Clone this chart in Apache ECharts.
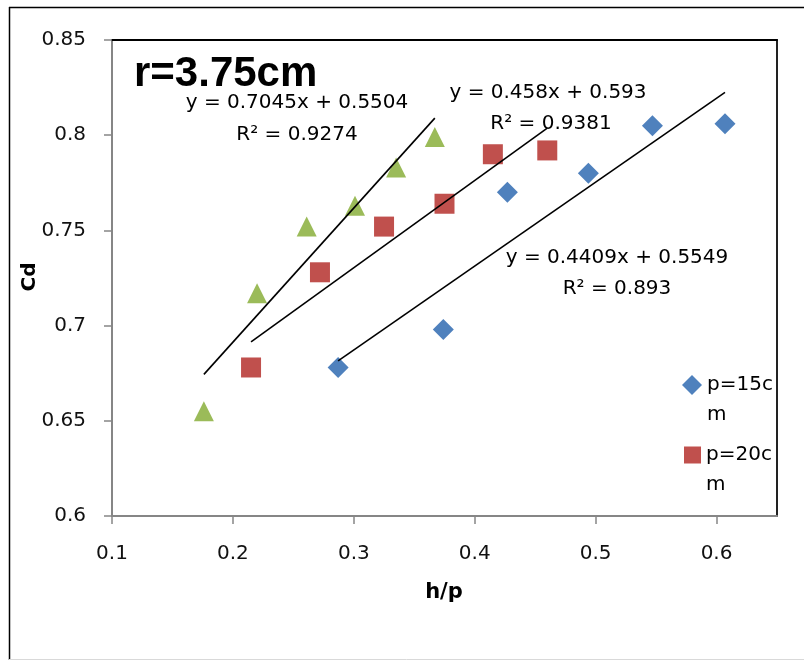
<!DOCTYPE html>
<html>
<head>
<meta charset="utf-8">
<script src="https://cdn.jsdelivr.net/npm/echarts@6/dist/echarts.min.js"></script>
<style>
  html, body { margin: 0; padding: 0; background: #ffffff; }
  #chart { width: 804px; height: 660px; }
</style>
</head>
<body>
<div id="chart"></div>
<script>
// Discharge coefficient Cd against relative head h/p, r = 3.75 cm
const seriesNames = ['p=15cm', 'p=20cm', 'p=10cm'];

const hpP15 = [0.287, 0.374, 0.427, 0.494, 0.547, 0.607];
const cdP15 = [0.678, 0.698, 0.770, 0.780, 0.805, 0.806];

const hpP20 = [0.215, 0.272, 0.325, 0.375, 0.415, 0.460];
const cdP20 = [0.678, 0.728, 0.752, 0.764, 0.790, 0.792];

const hpP10 = [0.176, 0.220, 0.261, 0.301, 0.335, 0.367];
const cdP10 = [0.655, 0.717, 0.752, 0.763, 0.783, 0.799];

// linear trendlines (same order as seriesNames)
const slopes = [0.4409, 0.458, 0.7045];
const intercepts = [0.5549, 0.593, 0.5504];
const rSquared = ['0.893', '0.9381', '0.9274'];

const xTickValues = [0.1, 0.2, 0.3, 0.4, 0.5, 0.6];
const yTickValues = [0.6, 0.65, 0.7, 0.75, 0.8, 0.85];

const colors = ['#4F81BD', '#C0504D', '#9BBB59'];
const symbols = ['diamond', 'rect', 'triangle'];
const hpAll = [hpP15, hpP20, hpP10];
const cdAll = [cdP15, cdP20, cdP10];

const FONT = 'DejaVu Sans';

function pairs(xs, ys) { return xs.map((x, i) => [x, ys[i]]); }
function trend(k) {
  const xs = hpAll[k];
  const lo = Math.min(...xs), hi = Math.max(...xs);
  return [[lo, slopes[k] * lo + intercepts[k]], [hi, slopes[k] * hi + intercepts[k]]];
}

const scatterSeries = seriesNames.map((name, k) => ({
  name: name,
  type: 'scatter',
  symbol: symbols[k],
  symbolSize: k === 0 ? 21 : 20,
  itemStyle: { color: colors[k], opacity: 1 },
  data: pairs(hpAll[k], cdAll[k]),
  z: 3
}));

const trendSeries = seriesNames.map((name, k) => ({
  name: name + ' trend',
  type: 'line',
  data: trend(k),
  showSymbol: false,
  symbol: 'none',
  lineStyle: { color: '#000000', width: 1.6 },
  silent: true,
  z: 4
}));

// equation label placement (centre x, centre y of first line, second line)
const eqPos = [[617, 258, 617, 289], [548, 93, 551, 124], [297, 103, 297, 135]];
const eqGraphics = [];
seriesNames.forEach((n, k) => {
  const p = eqPos[k];
  eqGraphics.push({
    type: 'text', x: p[0], y: p[1], z: 10,
    style: { text: 'y = ' + slopes[k] + 'x + ' + intercepts[k], font: '20px "' + FONT + '"',
             fill: '#000', align: 'center', verticalAlign: 'middle' }
  });
  eqGraphics.push({
    type: 'text', x: p[2], y: p[3], z: 10,
    style: { text: 'R² = ' + rSquared[k], font: '20px "' + FONT + '"',
             fill: '#000', align: 'center', verticalAlign: 'middle' }
  });
});

const axisGrey = '#868686';
const legendText = { fontFamily: FONT, fontSize: 20, lineHeight: 30, color: '#000' };
// the series name wraps after "p=15c"; a leading blank line keeps the first
// line level with the legend symbol
const wrapName = name => '\n' + name.slice(0, 5) + '\n' + name.slice(5);

const chart = echarts.init(document.getElementById('chart'), null, { renderer: 'canvas' });
chart.setOption({
  backgroundColor: '#ffffff',
  animation: false,
  grid: { left: 112, right: 27, top: 40, bottom: 144, show: false },
  xAxis: [{
    type: 'value', min: 0.1, max: 0.65,
    axisLine: { show: true, onZero: false, lineStyle: { color: axisGrey, width: 2 } },
    axisTick: { show: true, inside: false, length: 8, customValues: xTickValues,
                lineStyle: { color: axisGrey, width: 1.5 } },
    axisLabel: { customValues: xTickValues, margin: 28, fontFamily: FONT, fontSize: 20,
                 lineHeight: 20, color: '#111' },
    splitLine: { show: false }
  }, {
    type: 'value', min: 0.1, max: 0.65, position: 'top',
    axisLine: { show: true, onZero: false, lineStyle: { color: '#000', width: 2 } },
    axisTick: { show: false }, axisLabel: { show: false }, splitLine: { show: false }
  }],
  yAxis: [{
    type: 'value', min: 0.6, max: 0.85, interval: 0.05,
    axisLine: { show: true, onZero: false, lineStyle: { color: axisGrey, width: 2 } },
    axisTick: { show: true, inside: false, length: 8, lineStyle: { color: axisGrey, width: 1.5 } },
    axisLabel: { margin: 26, fontFamily: FONT, fontSize: 20, color: '#111' },
    splitLine: { show: false }
  }, {
    type: 'value', min: 0.6, max: 0.85, position: 'right',
    axisLine: { show: true, onZero: false, lineStyle: { color: '#222', width: 2 } },
    axisTick: { show: false }, axisLabel: { show: false }, splitLine: { show: false }
  }],
  legend: [{
    data: [seriesNames[0]], orient: 'vertical', left: 682, top: 340, padding: 0,
    itemWidth: 20, itemHeight: 20, itemGap: 0, selectedMode: false,
    formatter: wrapName, textStyle: legendText
  }, {
    data: [seriesNames[1]], orient: 'vertical', left: 684, top: 410, padding: 0,
    itemWidth: 17, itemHeight: 17, itemGap: 0, selectedMode: false,
    formatter: wrapName, textStyle: legendText
  }],
  series: scatterSeries.concat(trendSeries),
  graphic: [
    // outer frame
    { type: 'line', shape: { x1: 9.5, y1: 7, x2: 9.5, y2: 660 }, style: { stroke: '#000', lineWidth: 1.5 } },
    { type: 'line', shape: { x1: 9, y1: 7.5, x2: 804, y2: 7.5 }, style: { stroke: '#000', lineWidth: 1.5 } },
    { type: 'line', shape: { x1: 9, y1: 659.5, x2: 804, y2: 659.5 }, style: { stroke: '#d9d9d9', lineWidth: 1 } },
    // chart title
    { type: 'text', x: 134, y: 74, z: 10,
      style: { text: 'r=3.75cm', font: 'bold 42px "Liberation Sans"', fill: '#000',
               align: 'left', verticalAlign: 'middle' } },
    // axis titles
    { type: 'text', x: 444, y: 593, z: 10,
      style: { text: 'h/p', font: 'bold 21px "' + FONT + '"', fill: '#000',
               align: 'center', verticalAlign: 'middle' } },
    { type: 'text', x: 30, y: 277, rotation: Math.PI / 2, z: 10,
      style: { text: 'Cd', font: 'bold 20px "' + FONT + '"', fill: '#000',
               align: 'center', verticalAlign: 'middle' } }
  ].concat(eqGraphics)
});
</script>
</body>
</html>
